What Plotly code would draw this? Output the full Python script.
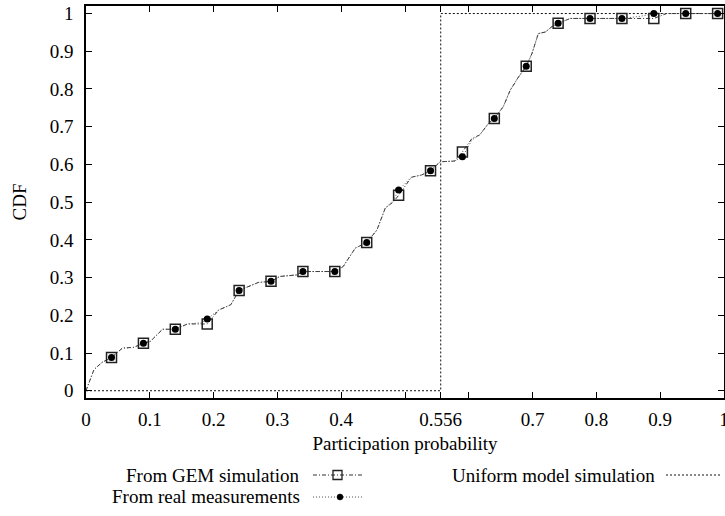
import plotly.graph_objects as go

# ---------------- data ----------------
gem_line_x = [0, 0.0125, 0.025, 0.04, 0.057, 0.075, 0.09, 0.101, 0.12, 0.14, 0.159, 0.19,
              0.208, 0.227, 0.24, 0.27, 0.29, 0.304, 0.33, 0.34, 0.39, 0.403, 0.422, 0.44,
              0.456, 0.469, 0.482, 0.49, 0.51, 0.526, 0.54, 0.555, 0.578, 0.59, 0.605, 0.617,
              0.631, 0.64, 0.654, 0.665, 0.678, 0.69, 0.699, 0.709, 0.72, 0.73, 0.74, 0.759,
              0.79, 0.84, 0.89, 0.91, 0.94, 1.0]
gem_line_y = [0, 0.056, 0.075, 0.088, 0.113, 0.115, 0.126, 0.131, 0.163, 0.163, 0.177, 0.177,
              0.214, 0.228, 0.266, 0.287, 0.290, 0.303, 0.307, 0.316, 0.316, 0.329, 0.378, 0.393,
              0.426, 0.484, 0.501, 0.518, 0.566, 0.572, 0.583, 0.607, 0.609, 0.633, 0.669, 0.678,
              0.709, 0.722, 0.753, 0.797, 0.832, 0.860, 0.894, 0.947, 0.951, 0.965, 0.974, 0.987,
              0.987, 0.987, 0.987, 1.0, 1.0, 1.0]

meas_line_x = [0, 0.0125, 0.025, 0.04, 0.057, 0.075, 0.09, 0.101, 0.12, 0.14, 0.159, 0.18, 0.19,
               0.208, 0.227, 0.24, 0.27, 0.29, 0.304, 0.33, 0.34, 0.39, 0.403, 0.422, 0.44,
               0.456, 0.469, 0.482, 0.49, 0.51, 0.526, 0.54, 0.555, 0.578, 0.59, 0.605, 0.617,
               0.631, 0.64, 0.654, 0.665, 0.678, 0.69, 0.699, 0.709, 0.72, 0.73, 0.74, 0.759,
               0.79, 0.84, 0.87, 0.89, 0.94, 1.0]
meas_line_y = [0, 0.056, 0.075, 0.088, 0.113, 0.115, 0.126, 0.131, 0.163, 0.163, 0.177, 0.180, 0.190,
               0.214, 0.228, 0.266, 0.287, 0.290, 0.303, 0.307, 0.316, 0.316, 0.329, 0.378, 0.393,
               0.426, 0.484, 0.505, 0.532, 0.566, 0.572, 0.583, 0.607, 0.609, 0.620, 0.665, 0.678,
               0.709, 0.722, 0.753, 0.797, 0.832, 0.860, 0.894, 0.947, 0.951, 0.965, 0.974, 0.987,
               0.987, 0.987, 0.993, 1.0, 1.0, 1.0]

marker_x = [0.04, 0.09, 0.14, 0.19, 0.24, 0.29, 0.34, 0.39, 0.44, 0.49,
            0.54, 0.59, 0.64, 0.69, 0.74, 0.79, 0.84, 0.89, 0.94, 0.99]
gem_marker_y = [0.088, 0.126, 0.163, 0.177, 0.266, 0.290, 0.316, 0.316, 0.393, 0.518,
                0.583, 0.633, 0.722, 0.860, 0.974, 0.987, 0.987, 0.987, 1.0, 1.0]
meas_marker_y = [0.088, 0.126, 0.163, 0.190, 0.266, 0.290, 0.316, 0.316, 0.393, 0.532,
                 0.583, 0.620, 0.722, 0.860, 0.974, 0.987, 0.987, 1.0, 1.0, 1.0]

uniform_x = [0, 0.556, 0.556, 1.0]
uniform_y = [0, 0, 1.0, 1.0]

x_tickvals = [0, 0.1, 0.2, 0.3, 0.4, 0.5, 0.556, 0.6, 0.7, 0.8, 0.9, 1.0]
x_ticktext = ["0", "0.1", "0.2", "0.3", "0.4", "", "0.556", "", "0.7", "0.8", "0.9", "1"]
y_tickvals = [0, 0.1, 0.2, 0.3, 0.4, 0.5, 0.6, 0.7, 0.8, 0.9, 1.0]
y_ticktext = ["0", "0.1", "0.2", "0.3", "0.4", "0.5", "0.6", "0.7", "0.8", "0.9", "1"]

legend_labels = ["From GEM simulation", "From real measurements", "Uniform model simulation"]

# ---------------- figure ----------------
FONT = "Liberation Serif"
FS = 19
W, H = 725, 516
ML, MR, MT, MB = 86, 1, 6, 118
PW, PH = W - ML - MR, H - MT - MB

def px(x):
    return (x - ML) / PW

def py(y):
    return (H - MB - y) / PH

fig = go.Figure()

fig.add_trace(go.Scatter(x=uniform_x, y=uniform_y, mode="lines",
                         line=dict(color="#111", width=1, dash="2px,2px"),
                         name=legend_labels[2]))
fig.add_trace(go.Scatter(x=gem_line_x, y=gem_line_y, mode="lines",
                         line=dict(color="#333", width=1, dash="4px,2px,1px,2px"),
                         name=legend_labels[0]))
fig.add_trace(go.Scatter(x=meas_line_x, y=meas_line_y, mode="lines",
                         line=dict(color="#555", width=1, dash="1px,2px"),
                         name=legend_labels[1]))
fig.add_trace(go.Scatter(x=marker_x, y=gem_marker_y, mode="markers",
                         marker=dict(symbol="square-open", size=10, color="#222",
                                     line=dict(width=1.5, color="#222")),
                         cliponaxis=False, name=legend_labels[0]))
fig.add_trace(go.Scatter(x=marker_x, y=meas_marker_y, mode="markers",
                         marker=dict(symbol="circle", size=7, color="black",
                                     line=dict(width=0)),
                         cliponaxis=False, name=legend_labels[1]))

axis_common = dict(ticks="inside", ticklen=6, tickwidth=1, tickcolor="black",
                   showline=True, linewidth=1.5, linecolor="black", mirror="ticks",
                   showgrid=False, zeroline=False, ticklabeloverflow="allow",
                   automargin=False,
                   tickfont=dict(family=FONT, size=FS, color="black"))

fig.update_layout(
    width=W, height=H,
    margin=dict(l=ML, r=MR, t=MT, b=MB),
    paper_bgcolor="white", plot_bgcolor="white",
    showlegend=False,
    font=dict(family=FONT, size=FS, color="black"),
    xaxis=dict(range=[0, 1.0], tickvals=x_tickvals, ticktext=x_ticktext,
               ticklabelstandoff=3,
               title=dict(text="Participation probability", standoff=8,
                          font=dict(family=FONT, size=FS, color="black")),
               **axis_common),
    yaxis=dict(range=[-0.0193, 1.02], tickvals=y_tickvals, ticktext=y_ticktext,
               ticklabelstandoff=7,
               title=dict(text="CDF", standoff=18, font=dict(family=FONT, size=FS, color="black")),
               **axis_common),
)

# ---------------- custom legend (text left of sample, gnuplot style) ----------------
row1, row2 = 475, 497
shapes = []
annotations = []
for label, xr, yr in [(legend_labels[0], 302, row1), (legend_labels[1], 302, row2),
                      (legend_labels[2], 657, row1)]:
    annotations.append(dict(x=px(xr), y=py(yr), xref="paper", yref="paper", text=label,
                            showarrow=False, xanchor="right", yanchor="middle",
                            font=dict(family=FONT, size=FS, color="black")))
shapes.append(dict(type="line", xref="paper", yref="paper", x0=px(313), x1=px(362),
                   y0=py(row1), y1=py(row1), line=dict(color="#333", width=1, dash="4px,2px,1px,2px")))
shapes.append(dict(type="rect", xref="paper", yref="paper", x0=px(333), x1=px(342),
                   y0=py(row1 - 4.5), y1=py(row1 + 4.5), line=dict(color="#222", width=1.3),
                   fillcolor="rgba(0,0,0,0)"))
shapes.append(dict(type="line", xref="paper", yref="paper", x0=px(313), x1=px(362),
                   y0=py(row2), y1=py(row2), line=dict(color="#555", width=1, dash="1px,2px")))
shapes.append(dict(type="circle", xref="paper", yref="paper", x0=px(337), x1=px(343),
                   y0=py(row2 - 3), y1=py(row2 + 3), line=dict(color="black", width=0.5),
                   fillcolor="black"))
shapes.append(dict(type="line", xref="paper", yref="paper", x0=px(666), x1=px(720),
                   y0=py(row1), y1=py(row1), line=dict(color="#111", width=1, dash="2px,2px")))
fig.update_layout(shapes=shapes, annotations=annotations)

fig.write_html("out.html")
